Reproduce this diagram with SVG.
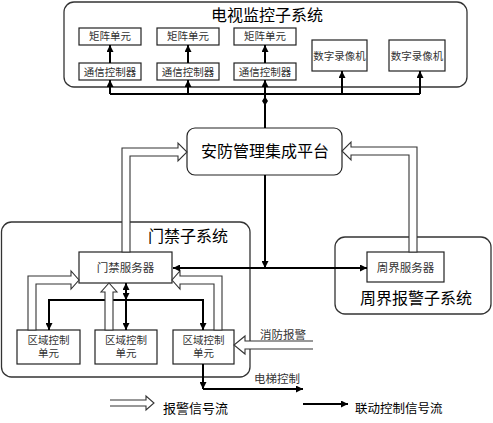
<svg xmlns="http://www.w3.org/2000/svg" width="493" height="423" viewBox="0 0 493 423">
<style>
text{font-family:"Liberation Serif","Noto Sans CJK SC",serif;text-anchor:middle;fill:#222}
.t16{font-size:16px;fill:#000}
.t11{font-size:10.5px;fill:#333}
.t12{font-size:11.5px;fill:#333}
.cont{fill:#fff;stroke:#333;stroke-width:1.3}
.box{fill:#fff;stroke:#222;stroke-width:1.2}
.bl{fill:none;stroke:#000;stroke-width:2}
.ho{fill:#fff;stroke:#333;stroke-width:1.1}
</style>
<defs>
<marker id="ah" viewBox="0 0 10 10" refX="10" refY="5" markerWidth="8" markerHeight="7" markerUnits="userSpaceOnUse" orient="auto-start-reverse">
<path d="M0,0 L10,5 L0,10 z" fill="#000"/>
</marker>
</defs>
<rect width="493" height="423" fill="#fff"/>

<g id="tv-subsystem">
<rect class="cont" x="64" y="2" width="403" height="85" rx="10"/>
<text class="t16" x="267" y="20.5">电视监控子系统</text>
</g>
<g id="access-subsystem">
<rect class="cont" x="1.5" y="222" width="248.5" height="155" rx="10"/>
<text class="t16" x="188" y="242">门禁子系统</text>
</g>
<g id="perimeter-subsystem">
<rect class="cont" x="335" y="237" width="156" height="77" rx="10"/>
<text class="t16" x="416" y="303.5">周界报警子系统</text>
</g>

<g id="matrix1"><rect class="box" x="79" y="28" width="62" height="17"/><text class="t11" x="110" y="40">矩阵单元</text></g>
<g id="matrix2"><rect class="box" x="157" y="28" width="62" height="17"/><text class="t11" x="188" y="40">矩阵单元</text></g>
<g id="matrix3"><rect class="box" x="234" y="28" width="62" height="17"/><text class="t11" x="265" y="40">矩阵单元</text></g>
<g id="comm1"><rect class="box" x="79" y="63" width="62" height="17"/><text class="t11" x="110" y="75.5">通信控制器</text></g>
<g id="comm2"><rect class="box" x="157" y="63" width="62" height="17"/><text class="t11" x="188" y="75.5">通信控制器</text></g>
<g id="comm3"><rect class="box" x="234" y="63" width="62" height="17"/><text class="t11" x="265" y="75.5">通信控制器</text></g>
<g id="dvr1"><rect class="box" x="312" y="40" width="55" height="31"/><text class="t11" x="339.5" y="60">数字录像机</text></g>
<g id="dvr2"><rect class="box" x="389" y="40" width="56" height="31"/><text class="t11" x="417" y="60">数字录像机</text></g>

<g id="platform"><rect class="box" x="187" y="128" width="155" height="47" rx="8"/><text class="t16" x="265" y="156.5">安防管理集成平台</text></g>

<g id="access-server"><rect class="box" x="79" y="252" width="93" height="31"/><text class="t12" x="125.5" y="272">门禁服务器</text></g>
<g id="perimeter-server"><rect class="box" x="367" y="252" width="77" height="30"/><text class="t12" x="405.5" y="272">周界服务器</text></g>

<g id="unit1"><rect class="box" x="17" y="330" width="63" height="34"/><text class="t11" x="48.5" y="343.5">区域控制</text><text class="t11" x="48.5" y="356.5">单元</text></g>
<g id="unit2"><rect class="box" x="95" y="330" width="62" height="34"/><text class="t11" x="126" y="343.5">区域控制</text><text class="t11" x="126" y="356.5">单元</text></g>
<g id="unit3"><rect class="box" x="173" y="330" width="61" height="34"/><text class="t11" x="203.5" y="343.5">区域控制</text><text class="t11" x="203.5" y="356.5">单元</text></g>

<g id="connectors">
<path class="bl" d="M265,128 V94 M110,94 H420"/>
<path d="M265,96.5 L268,101 L265,105.5 L262,101 z" fill="#000"/>
<path class="bl" marker-end="url(#ah)" d="M110,94 V80"/>
<path class="bl" marker-end="url(#ah)" d="M188,94 V80"/>
<path class="bl" marker-end="url(#ah)" d="M265,94 V80"/>
<path class="bl" marker-end="url(#ah)" d="M342,94 V71"/>
<path class="bl" marker-end="url(#ah)" d="M420,94 V71"/>
<path class="bl" marker-end="url(#ah)" d="M110,63 V45"/>
<path class="bl" marker-end="url(#ah)" d="M188,63 V45"/>
<path class="bl" marker-end="url(#ah)" d="M265,63 V45"/>

<path class="bl" marker-end="url(#ah)" d="M265,175 V268"/>
<path class="bl" marker-start="url(#ah)" marker-end="url(#ah)" d="M173,268 H367"/>
<path class="bl" marker-start="url(#ah)" marker-end="url(#ah)" d="M126,283 V300"/>
<path class="bl" marker-start="url(#ah)" marker-end="url(#ah)" d="M49,330 V300 H203 V330"/>
<path class="bl" marker-end="url(#ah)" d="M126,300 V330"/>
<path class="bl" marker-end="url(#ah)" d="M203,364 V389"/>
<path class="bl" marker-end="url(#ah)" d="M203,389 H303"/>

<polygon class="ho" points="122,252 122,148 178,148 178,143 187,152 178,161 178,156 130,156 130,252"/>
<polygon class="ho" points="417,252 417,147 351,147 351,142 342,151 351,160 351,155 409,155 409,252"/>
<polygon class="ho" points="28,330 28,276 71,276 71,271 79,280 71,289 71,284 36,284 36,330"/>
<polygon class="ho" points="222,330 222,276 180,276 180,271 172,280 180,289 180,284 214,284 214,330"/>
<polygon class="ho" points="105,330 105,292 101,292 109,283 117,292 113,292 113,330"/>
<path class="ho" d="M313,341 H245 V336 L234,345 L245,354 V349 H313"/>
<text class="t12" x="283" y="339">消防报警</text>
<text class="t11" x="277" y="383" style="font-size:11.5px">电梯控制</text>
</g>

<g id="legend">
<path class="ho" d="M110,400 H146 V396 L154,403 L146,410 V406 H110"/>
<text x="163" y="413" style="font-size:13px;text-anchor:start;fill:#000">报警信号流</text>
<path class="bl" marker-end="url(#ah)" d="M303,404 H348"/>
<text x="355" y="413" style="font-size:12.5px;text-anchor:start;fill:#000">联动控制信号流</text>
</g>
</svg>
